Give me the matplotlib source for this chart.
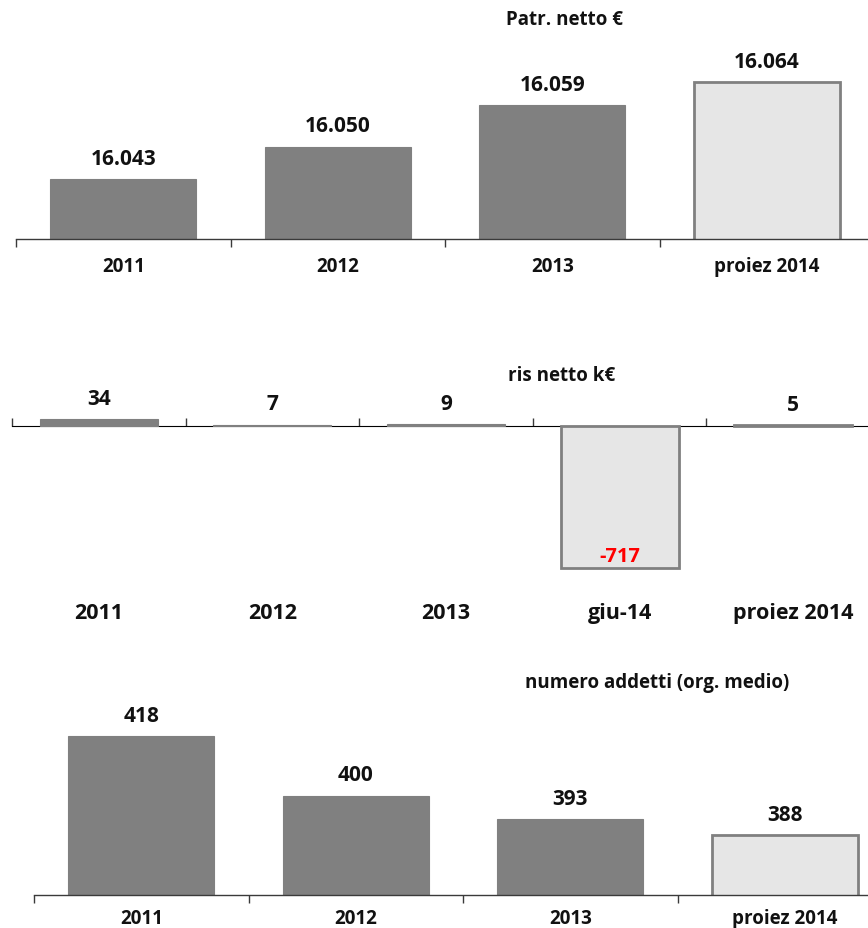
import matplotlib.pyplot as plt
from matplotlib.ticker import FixedLocator

plt.rcParams['font.family'] = ['Open Sans', 'DejaVu Sans']
plt.rcParams['font.weight'] = 'bold'

# --- data ---
patr_years = ['2011', '2012', '2013', 'proiez 2014']
patr_values = [16043, 16050, 16059, 16064]
patr_proj = [False, False, False, True]

ris_years = ['2011', '2012', '2013', 'giu-14', 'proiez 2014']
ris_values = [34, 7, 9, -717, 5]
ris_proj = [False, False, False, True, True]

add_years = ['2011', '2012', '2013', 'proiez 2014']
add_values = [418, 400, 393, 388]
add_proj = [False, False, False, True]

DARK = '#808080'
LIGHT = '#e6e6e6'
AXIS = '#3a3a3a'
TXT = '#111111'
W, H = 868, 929


def fmt_it(v):
    return f'{v:,}'.replace(',', '.')


def px_axes(fig, x0, x1, ytop, ybot):
    return fig.add_axes([x0 / W, 1 - ybot / H, (x1 - x0) / W, (ybot - ytop) / H])


def bars(ax, values, proj):
    x = range(len(values))
    cols = [LIGHT if p else DARK for p in proj]
    lws = [2.0 if p else 0.8 for p in proj]
    ax.bar(x, values, width=0.68, color=cols, edgecolor=DARK, linewidth=lws, zorder=2)


def style(ax, labels, pad, size):
    n = len(labels)
    ax.set_xlim(-0.5, n - 0.5)
    for s in ['top', 'right', 'left']:
        ax.spines[s].set_visible(False)
    ax.spines['bottom'].set_color(AXIS)
    ax.spines['bottom'].set_linewidth(1.0)
    ax.spines['bottom'].set_zorder(3)
    ax.set_yticks([])
    ax.set_xticks(range(n))
    ax.set_xticklabels(labels, fontsize=size, fontweight='bold', color=TXT)
    ax.xaxis.set_minor_locator(FixedLocator([i - 0.5 for i in range(n + 1)]))
    ax.tick_params(axis='x', which='major', length=0, pad=pad)
    ax.tick_params(axis='x', which='minor', length=6, width=1.0, color=AXIS, direction='out')
    ax.patch.set_alpha(0)


fig = plt.figure(figsize=(W / 100, H / 100), dpi=100)

# ---------- panel 1: Patr. netto ----------
ax1 = px_axes(fig, 16, 874, 40, 240)
bars(ax1, patr_values, patr_proj)
ax1.set_ylim(16030, 16030 + 200 / 4.62)
style(ax1, patr_years, 12, 13.5)
for i, v in enumerate(patr_values):
    ax1.annotate(fmt_it(v), (i, v), xytext=(0, 11), textcoords='offset points',
                 ha='center', va='baseline', fontsize=15, fontweight='bold', color=TXT)
fig.text(565 / W, 1 - 20 / H, 'Patr. netto €', ha='center', va='center',
         fontsize=13.5, fontweight='bold', color=TXT)

# ---------- panel 2: ris netto ----------
ax2 = px_axes(fig, 12, 880, 380, 600)
bars(ax2, ris_values, ris_proj)
top2 = (427 - 380) / 0.198
bot2 = -(600 - 427) / 0.198
ax2.set_ylim(bot2, top2)
style(ax2, ris_years, 2, 15.5)
ax2.spines['bottom'].set_visible(False)
ax2.tick_params(axis='x', which='minor', length=0)
sec = ax2.secondary_xaxis((0 - bot2) / (top2 - bot2))
sec.spines['bottom'].set_color(AXIS)
sec.spines['bottom'].set_linewidth(1.0)
sec.set_xticks([i - 0.5 for i in range(len(ris_years) + 1)])
sec.set_xticklabels([])
sec.tick_params(axis='x', length=6, width=1.0, color=AXIS)
for i, v in enumerate(ris_values):
    if v >= 0:
        ax2.annotate(str(v), (i, v), xytext=(0, 11), textcoords='offset points',
                     ha='center', va='baseline', fontsize=15, fontweight='bold', color=TXT)
    else:
        ax2.annotate(str(v), (i, v), xytext=(0, 5), textcoords='offset points',
                     ha='center', va='baseline', fontsize=14.5, fontweight='bold', color='#ff0000')
fig.text(562 / W, 1 - 376 / H, 'ris netto k€', ha='center', va='center',
         fontsize=13.5, fontweight='bold', color=TXT)

# ---------- panel 3: numero addetti ----------
ax3 = px_axes(fig, 34, 892, 700, 896)
bars(ax3, add_values, add_proj)
ax3.set_ylim(370, 370 + 196 / 3.31)
style(ax3, add_years, 9.5, 13.5)
for i, v in enumerate(add_values):
    ax3.annotate(str(v), (i, v), xytext=(0, 11), textcoords='offset points',
                 ha='center', va='baseline', fontsize=15, fontweight='bold', color=TXT)
fig.text(657 / W, 1 - 683 / H, 'numero addetti (org. medio)', ha='center', va='center',
         fontsize=13.5, fontweight='bold', color=TXT)

fig.savefig('out.png', dpi=100)
